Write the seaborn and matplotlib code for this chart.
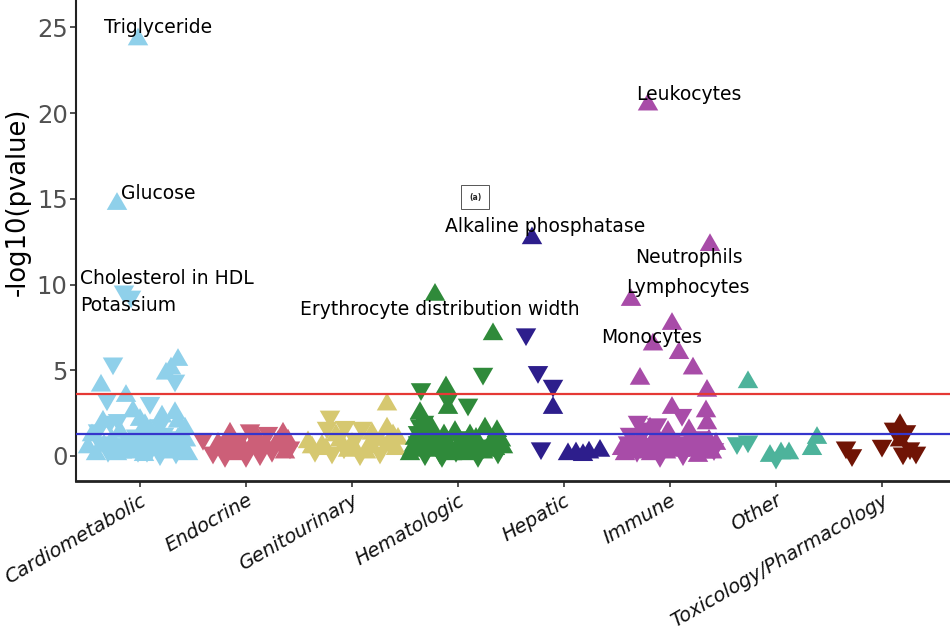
import numpy as np
import pandas as pd
import matplotlib
matplotlib.use("Agg")
import matplotlib.pyplot as plt
import seaborn as sns

# ---------------- data ----------------
categories = ["Cardiometabolic", "Endocrine", "Genitourinary", "Hematologic",
              "Hepatic", "Immune", "Other", "Toxicology/Pharmacology"]
category_pos = [140, 246, 352, 458, 564, 670, 776, 882]
palette = ["#8FD0EA", "#CC5F78", "#D6C870", "#2F8A3A",
           "#2D1E8C", "#A84CA8", "#4DB39B", "#701405"]

# phenotype position, -log10(p), direction of effect (u = up, d = down)
cardio_pos = [138, 117, 124, 131, 113, 178, 171, 166, 175, 101, 107, 126, 150, 133, 103,
              110, 140, 175, 178, 160, 92, 100, 108, 117, 124, 132, 140, 147, 155, 160,
              168, 176, 183, 188, 96, 120, 136, 150, 164, 178, 112, 128, 144,
              88, 104, 115, 122, 130, 138, 146, 152, 158, 166, 172, 180, 186, 98, 185,
              162, 118, 145]
cardio_logp = [24.3, 14.7, 9.6, 9.3, 5.4, 5.6, 5.1, 4.8, 4.4, 4.1, 3.3, 3.5, 3.1, 2.6, 2.0,
               2.0, 2.1, 2.5, 2.0, 1.8, 1.2, 0.8, 0.3, 0.1, 0.5, 0.2, 0.8, 0.3, 1.0, 0.1,
               0.6, 0.2, 0.4, 0.1, 0.1, 1.4, 1.2, 1.5, 1.3, 1.0, 0.9, 1.0, 0.05,
               0.5, 0.6, 0.7, 0.2, 0.6, 0.3, 0.9, 0.5, 0.6, 0.2, 1.1, 0.6, 0.9, 1.5, 1.6,
               2.3, 2.1, 1.8]
cardio_dir = "uuddd uuudu duduu duuud uddud uudud uduuu ududu udu uuduu duduu duudu udu"

endo_pos = [203, 230, 250, 268, 283, 213, 222, 228, 236, 242, 248, 255, 260, 265, 272,
            278, 285, 290, 240, 257, 246, 218, 233, 252, 262, 275, 288, 225]
endo_logp = [1.0, 1.3, 1.5, 1.35, 1.3, 0.2, 0.4, 0.8, 0.1, 0.6, 0.3, 0.9, 0.1, 0.7, 0.3,
             0.8, 0.2, 0.5, 1.0, 1.1, 0.0, 0.7, 0.5, 0.6, 0.5, 0.6, 0.9, 0.0]
endo_dir = "duddu duduu dudud uuddu d ududuud"

genito_pos = [387, 330, 327, 345, 362, 387, 393, 308, 315, 322, 332, 340, 348, 355, 360,
              368, 375, 380, 390, 396, 336, 372, 312, 326, 344, 352, 366, 384, 398]
genito_logp = [3.0, 2.3, 1.65, 1.7, 1.65, 1.6, 1.2, 0.8, 0.3, 0.6, 0.2, 0.9, 0.3, 1.0, 0.1,
               0.5, 0.9, 0.2, 0.6, 0.4, 1.2, 1.3, 0.5, 0.4, 0.5, 0.7, 0.2, 0.8, 1.0]
genito_dir = "udddd uuudu duudd udduu uu uuduudu"

hemato_pos = [435, 493, 483, 421, 446, 448, 448, 468, 420, 424, 418, 485, 497, 412, 418,
              425, 430, 436, 440, 446, 452, 458, 462, 468, 474, 480, 486, 492, 498, 503,
              428, 455, 470, 415, 442, 478,
              414, 422, 427, 433, 438, 444, 450, 456, 460, 465, 471, 476, 483, 489, 495,
              501, 410, 432, 420]
hemato_logp = [9.4, 7.1, 4.8, 3.9, 4.0, 3.3, 2.8, 3.0, 2.5, 2.0, 1.4, 1.6, 1.45, 0.3, 0.8,
               0.1, 0.6, 1.0, 0.2, 0.7, 0.1, 1.1, 0.4, 0.8, 0.2, 0.6, 0.3, 0.9, 0.2, 0.5,
               1.3, 1.4, 1.2, 1.0, 0.0, 0.0,
               0.6, 0.4, 0.9, 0.3, 0.6, 1.2, 0.5, 0.3, 0.8, 0.1, 0.5, 1.0, 0.2, 0.6, 0.4,
               0.9, 0.1, 1.6, 1.8]
hemato_dir = "uuddu dudud duuud duudu ududu duudu uuuud d uudud uuduu uuudu uuud"

hepatic_pos = [532, 526, 538, 553, 553, 541, 568, 576, 583, 589, 600]
hepatic_logp = [12.7, 7.1, 4.9, 4.1, 2.8, 0.45, 0.1, 0.15, 0.05, 0.2, 0.3]
hepatic_dir = "udddu duuuu u"

immune_pos = [648, 710, 631, 672, 653, 679, 693, 640, 707, 672, 682, 706, 707, 689, 638,
              657, 645, 622, 628, 634, 640, 646, 651, 656, 661, 666, 672, 677, 683, 688,
              694, 700, 705, 712, 716, 630, 668, 698, 660,
              625, 632, 637, 643, 649, 654, 659, 664, 670, 675, 680, 686, 691, 697, 703,
              709, 714, 650, 676]
immune_logp = [20.5, 12.3, 9.1, 7.7, 6.5, 6.0, 5.1, 4.5, 3.8, 2.8, 2.4, 2.6, 1.9, 1.5, 2.0,
               1.85, 1.6, 0.4, 0.8, 0.2, 1.0, 0.5, 0.1, 1.2, 0.6, 0.2, 1.0, 0.4, 0.1, 0.8,
               0.3, 1.1, 0.5, 0.2, 0.7, 1.3, 1.4, 0.0, 0.0,
               0.1, 0.6, 0.3, 0.8, 0.3, 0.7, 0.3, 0.9, 0.5, 0.8, 0.3, 0.5, 1.2, 0.6, 0.2,
               0.9, 0.4, 1.6, 1.3]
immune_dir = "uuuuu uuuuu duuud ddudu uduud ududu uduuu duud uuduu duuud uuudu udu"

other_pos = [748, 737, 748, 770, 776, 781, 789, 817, 812]
other_logp = [4.3, 0.75, 0.85, 0.0, -0.1, 0.15, 0.15, 1.05, 0.4]
other_dir = "uddud uuuu"

tox_pos = [846, 852, 882, 894, 900, 906, 900, 910, 903, 916]
tox_logp = [0.5, 0.05, 0.6, 1.6, 1.8, 1.45, 0.9, 0.45, 0.15, 0.2]
tox_dir = "ddddu duddd"

label_names = ["Triglyceride", "Glucose", "Cholesterol in HDL", "Potassium",
               "Erythrocyte distribution width", "Alkaline phosphatase",
               "Leukocytes", "Neutrophils", "Lymphocytes", "Monocytes"]

nominal_line = 1.3
bonferroni_line = 3.6

# ---------------- table ----------------
groups = [(cardio_pos, cardio_logp, cardio_dir), (endo_pos, endo_logp, endo_dir),
          (genito_pos, genito_logp, genito_dir), (hemato_pos, hemato_logp, hemato_dir),
          (hepatic_pos, hepatic_logp, hepatic_dir), (immune_pos, immune_logp, immune_dir),
          (other_pos, other_logp, other_dir), (tox_pos, tox_logp, tox_dir)]
rows = []
for cat, (p, l, d) in zip(categories, groups):
    d = d.replace(" ", "")
    n = min(len(p), len(l), len(d))
    for i in range(n):
        rows.append({"category": cat, "pos": p[i], "logp": l[i],
                     "direction": "up" if d[i] == "u" else "down"})
df = pd.DataFrame(rows)

# ---------------- plot ----------------
sns.set_style("white")
plt.rcParams["font.family"] = ["DejaVu Sans"]

fig = plt.figure(figsize=(9.5, 6.29), dpi=100)
ax = fig.add_axes([76 / 950, 148 / 629, 874 / 950, 481 / 629])

h = np.sqrt(3)
tri_up = [(-1, -h / 3), (1, -h / 3), (0, 2 * h / 3), (-1, -h / 3)]
tri_down = [(-1, h / 3), (1, h / 3), (0, -2 * h / 3), (-1, h / 3)]

sns.scatterplot(data=df, x="pos", y="logp", hue="category", hue_order=categories,
                palette=palette, style="direction", style_order=["up", "down"],
                markers={"up": tri_up, "down": tri_down}, s=290, linewidth=0,
                alpha=1, legend=False, ax=ax, zorder=2)

ax.axhline(bonferroni_line, color="#E53935", lw=1.6, zorder=3)
ax.axhline(nominal_line, color="#3535CC", lw=1.6, zorder=3)

label_xy = [(104, 25.0), (121, 15.3), (80, 10.34), (80, 8.76), (300, 8.53),
            (445, 13.4), (636, 21.1), (635, 11.6), (626, 9.8), (601, 6.9)]
for name, (tx, ty) in zip(label_names, label_xy):
    ax.text(tx, ty, name, fontsize=13.5, color="black", ha="left", va="center", zorder=4)

ax.text(469, 15.1, "(a)", fontsize=5.5, fontweight="bold", ha="left", va="center",
        bbox=dict(boxstyle="square,pad=1.0", fc="white", ec="#555555", lw=0.7), zorder=4)

ax.set_xlim(76, 950)
ax.set_ylim(-1.46, 26.6)
ax.set_xticks(category_pos)
ax.set_xticklabels(categories, rotation=30, ha="right", rotation_mode="anchor",
                   fontsize=14, style="italic", color="#111111")
ax.set_yticks([0, 5, 10, 15, 20, 25])
ax.set_yticklabels(["0", "5", "10", "15", "20", "25"], fontsize=17.5, color="#505050")
ax.set_xlabel("")
ax.set_ylabel("-log10(pvalue)", fontsize=18.5, color="black")
ax.yaxis.set_label_coords(-0.052, 0.58)
ax.tick_params(axis="both", which="both", direction="out", length=4, width=1.2,
               color="#333333", bottom=True, left=True)
ax.tick_params(axis="x", pad=3)
ax.tick_params(axis="y", pad=2)

for side in ["top", "right"]:
    ax.spines[side].set_visible(False)
ax.spines["left"].set_color("#222222")
ax.spines["left"].set_linewidth(1.5)
ax.spines["bottom"].set_color("#222222")
ax.spines["bottom"].set_linewidth(2)

fig.savefig("out.png", dpi=100, facecolor="white")
